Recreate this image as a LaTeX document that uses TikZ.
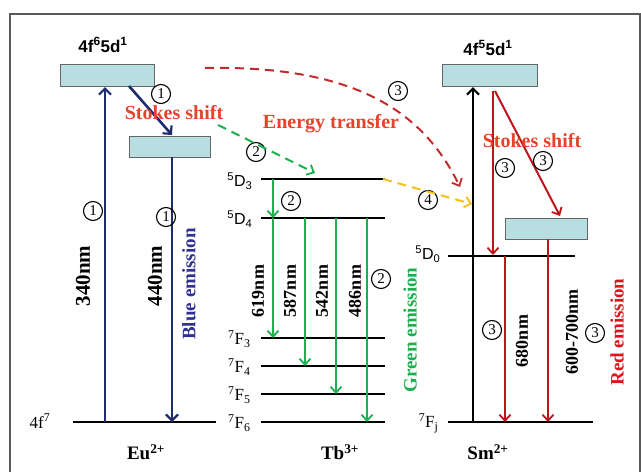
\documentclass[tikz,border=0pt]{standalone}
\usepackage{fontspec}
\setmainfont{Liberation Serif}
\newfontfamily\arialf{Liberation Sans}
\usetikzlibrary{arrows.meta}
\definecolor{navy}{HTML}{1F2D6E}
\definecolor{grn}{HTML}{1DAF4E}
\definecolor{dred}{HTML}{C0141C}
\definecolor{ored}{HTML}{E8432A}
\definecolor{dashred}{HTML}{C02A2A}
\definecolor{gold}{HTML}{F2C21B}
\definecolor{boxfill}{HTML}{B8DEE2}
\definecolor{remis}{HTML}{E0141C}
\definecolor{bemis}{HTML}{2E3192}
\tikzset{
  lvl/.style={line width=2.4pt,black},
  ebox/.style={draw=gray!80!black,line width=1pt,fill=boxfill},
  arr/.style={line width=2.6pt,-{Straight Barb[length=6pt,width=12pt,line width=2.2pt]}},
  garr/.style={line width=2pt,grn,-{Straight Barb[length=6pt,width=11pt,line width=1.8pt]}},
  rarr/.style={line width=2pt,dred,-{Straight Barb[length=6pt,width=11pt,line width=1.8pt]}},
  darr/.style={line width=2pt,dash pattern=on 9pt off 6pt,-{Straight Barb[length=6pt,width=11pt,line width=1.8pt]}},
  circ/.style={circle,draw,line width=1.1pt,inner sep=0pt,minimum size=19pt,font=\fontsize{15}{15}\selectfont},
  lab/.style={font=\fontsize{20}{20}\selectfont\bfseries},
  nm/.style={font=\fontsize{21}{21}\selectfont\bfseries,rotate=90},
  ion/.style={font=\fontsize{19}{19}\selectfont\bfseries},
  sub/.style={font=\fontsize{17}{17}\selectfont},
  ssub/.style={font=\arialf\fontsize{16}{16}\selectfont},
  cfg/.style={font=\arialf\bfseries\fontsize{17}{17}\selectfont}
}
\begin{document}
\begin{tikzpicture}[x=1pt,y=-1pt]
\useasboundingbox (0,0) rectangle (641,472);
% frame
\draw[line width=1.2pt,gray!70!black] (10,480) -- (10,14) -- (640,14) -- (640,480);
% Eu
\node[ebox,minimum width=94pt,minimum height=22pt] (eb1) at (107,75) {};
\node[ebox,minimum width=81pt,minimum height=21pt] (eb2) at (169.5,146.5) {};
\node[cfg] (eucfg) at (103,45) {4f\textsuperscript{6}5d\textsuperscript{1}};
\coordinate (eug1) at (73,422); \coordinate (eug2) at (216,422);
\draw[lvl] (eug1) -- (eug2);
\node[sub] (eug) at (40,421) {4f\textsuperscript{7}};
\coordinate (eua) at (105,422); \coordinate (eub) at (105,87);
\draw[arr,navy] (eua) -- (eub);
\coordinate (euc) at (129,86); \coordinate (eud) at (172,135);
\draw[arr,navy] (euc) -- (eud);
\coordinate (eue) at (172,157); \coordinate (euf) at (172,422);
\draw[arr,navy] (eue) -- (euf);
\node[nm] (n340) at (83,276) {340nm};
\node[nm] (n440) at (155,276) {440nm};
\node[nm,bemis,font=\fontsize{19}{19}\selectfont\bfseries] (blue) at (189,284) {Blue emission};
\node[lab,ored] (ss1) at (174,113) {Stokes shift};
\node[ion] (eu) at (146,452) {Eu\textsuperscript{2+}};
\node[circ] (c1a) at (161,94) {1};
\node[circ] (c1b) at (93,211) {1};
\node[circ] (c1c) at (166,217) {1};
% Tb
\foreach \y/\n in {179/d3,218/d4,338/f3,366/f4,394/f5,422/f6}{
  \coordinate (\n l) at (261,\y); \coordinate (\n r) at (385,\y);
  \draw[lvl] (\n l) -- (\n r);
}
\node[ssub,anchor=east] (ld3) at (256,181) {\textsuperscript{5}D\textsubscript{3}};
\node[ssub,anchor=east] (ld4) at (256,219) {\textsuperscript{5}D\textsubscript{4}};
\node[sub,anchor=east] (lf3) at (254,339) {\textsuperscript{7}F\textsubscript{3}};
\node[sub,anchor=east] (lf4) at (254,367) {\textsuperscript{7}F\textsubscript{4}};
\node[sub,anchor=east] (lf5) at (254,395) {\textsuperscript{7}F\textsubscript{5}};
\node[sub,anchor=east] (lf6) at (254,423) {\textsuperscript{7}F\textsubscript{6}};
\coordinate (g0a) at (273,179); \coordinate (g0b) at (273,218);
\draw[garr] (g0a) -- (g0b);
\coordinate (g1a) at (273,218); \coordinate (g1b) at (273,338);
\draw[garr] (g1a) -- (g1b);
\coordinate (g2a) at (305,218); \coordinate (g2b) at (305,366);
\draw[garr] (g2a) -- (g2b);
\coordinate (g3a) at (336,218); \coordinate (g3b) at (336,394);
\draw[garr] (g3a) -- (g3b);
\coordinate (g4a) at (367,218); \coordinate (g4b) at (367,422);
\draw[garr] (g4a) -- (g4b);
\node[nm,font=\fontsize{18}{18}\selectfont\bfseries] (n619) at (258,291) {619nm};
\node[nm,font=\fontsize{18}{18}\selectfont\bfseries] (n587) at (290,291) {587nm};
\node[nm,font=\fontsize{18}{18}\selectfont\bfseries] (n542) at (322,291) {542nm};
\node[nm,font=\fontsize{18}{18}\selectfont\bfseries] (n486) at (355,291) {486nm};
\node[nm,grn,font=\fontsize{19}{19}\selectfont\bfseries] (green) at (410,330) {Green emission};
\node[circ] (c2a) at (256,152) {2};
\node[circ] (c2b) at (291,201) {2};
\node[circ] (c2c) at (381,279) {2};
\node[lab,ored] (et) at (331,124) {Energy transfer};
\node[ion] (tb) at (340,452) {Tb\textsuperscript{3+}};
\coordinate (gda) at (218,125); \coordinate (gdb) at (315,173);
\draw[darr,grn] (gda) -- (gdb);
% Sm
\node[ebox,minimum width=95pt,minimum height=22pt] (sb1) at (489.5,75) {};
\node[ebox,minimum width=82pt,minimum height=21pt] (sb2) at (546,228.5) {};
\node[cfg] (smcfg) at (488,48) {4f\textsuperscript{5}5d\textsuperscript{1}};
\coordinate (d0l) at (448,256); \coordinate (d0r) at (575,256);
\draw[lvl] (d0l) -- (d0r);
\coordinate (fjl) at (448,422); \coordinate (fjr) at (593,422);
\draw[lvl] (fjl) -- (fjr);
\node[ssub,anchor=east] (ld0) at (444,254) {\textsuperscript{5}D\textsubscript{0}};
\node[sub,anchor=east] (lfj) at (442,423) {\textsuperscript{7}F\textsubscript{j}};
\coordinate (sma) at (473,422); \coordinate (smb) at (473,87);
\draw[arr,black] (sma) -- (smb);
\coordinate (smc) at (493,91); \coordinate (smd) at (493,255);
\draw[rarr] (smc) -- (smd);
\coordinate (sme) at (495,91); \coordinate (smf) at (560,216);
\draw[rarr] (sme) -- (smf);
\coordinate (smg) at (505,256); \coordinate (smh) at (505,422);
\draw[rarr] (smg) -- (smh);
\coordinate (smi) at (548,239); \coordinate (smj) at (548,422);
\draw[rarr] (smi) -- (smj);
\node[lab,ored] (ss2) at (532,141) {Stokes shift};
\node[nm,font=\fontsize{18}{18}\selectfont\bfseries] (n680) at (522,341) {680nm};
\node[nm,font=\fontsize{18}{18}\selectfont\bfseries] (n600) at (572,332) {600-700nm};
\node[nm,remis,font=\fontsize{19}{19}\selectfont\bfseries] (red) at (617,332) {Red emission};
\node[circ] (c3a) at (398,91) {3};
\node[circ] (c3b) at (505,168) {3};
\node[circ] (c3c) at (543,161) {3};
\node[circ] (c3d) at (492,330) {3};
\node[circ] (c3e) at (595,333) {3};
\node[circ] (c4) at (428,200) {4};
\node[ion] (sm) at (488,452) {Sm\textsuperscript{2+}};
% transfers
\coordinate (rda) at (205,68); \coordinate (rdb) at (460,187);
\draw[darr,dashred] (rda) .. controls (360,65) and (425,115) .. (rdb);
\coordinate (yda) at (383,179); \coordinate (ydb) at (472,204);
\draw[darr,gold] (yda) -- (ydb);
\end{tikzpicture}
\end{document}
